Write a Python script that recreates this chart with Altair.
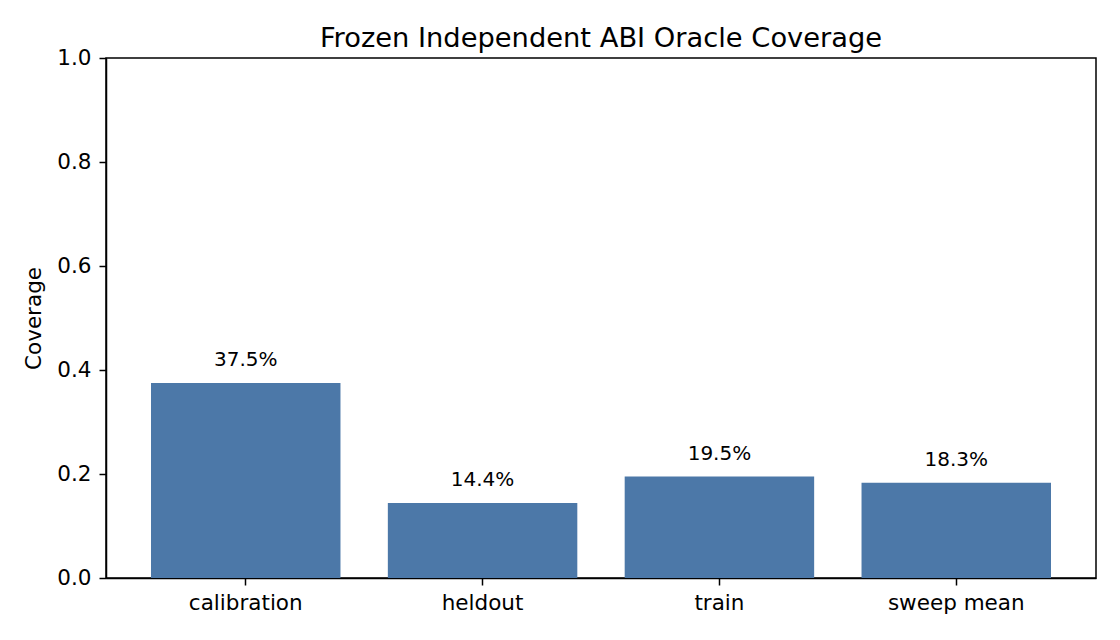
import altair as alt
import pandas as pd

# data
splits = ["calibration", "heldout", "train", "sweep mean"]
coverage = [0.375, 0.144, 0.195, 0.183]
labels = ["37.5%", "14.4%", "19.5%", "18.3%"]

df = pd.DataFrame({"split": splits, "coverage": coverage, "label": labels})

FONT = "DejaVu Sans"

base = alt.Chart(df).encode(
    x=alt.X("split:N", sort=splits, title=None,
            scale=alt.Scale(paddingInner=0.2, paddingOuter=0.19),
            axis=alt.Axis(labelAngle=0, labelFontSize=21.5, labelPadding=7,
                          tickSize=7, tickWidth=1.5, tickColor="black",
                          domainColor="black", domainWidth=1.5,
                          labelColor="black", labelFont=FONT)),
    y=alt.Y("coverage:Q", title="Coverage",
            scale=alt.Scale(domain=[0, 1], nice=False),
            axis=alt.Axis(values=[0, 0.2, 0.4, 0.6, 0.8, 1.0], format=".1f",
                          grid=False, labelFontSize=21.5, labelPadding=8,
                          tickSize=7, tickWidth=1.5, tickColor="black",
                          domainColor="black", domainWidth=1.5,
                          labelColor="black", labelFont=FONT,
                          titleFont=FONT, titleFontSize=21.5, titleFontWeight="normal",
                          titleColor="black", titlePadding=11)),
)

bars = base.mark_bar(color="#4C78A8")

text = base.mark_text(baseline="alphabetic", dy=-17, fontSize=20, font=FONT,
                      color="black").encode(text="label:N")

chart = (bars + text).properties(
    width=990,
    height=520,
    title=alt.TitleParams("Frozen Independent ABI Oracle Coverage", fontSize=27.3,
                          font=FONT, fontWeight="normal", color="black", offset=-5),
    autosize=alt.AutoSizeParams(type="none"),
    padding={"left": 98, "top": 50, "right": 16, "bottom": 54},
).configure_view(stroke="black", strokeWidth=1.5)

chart.save("out.html", embed_options={"renderer": "svg", "actions": False})
